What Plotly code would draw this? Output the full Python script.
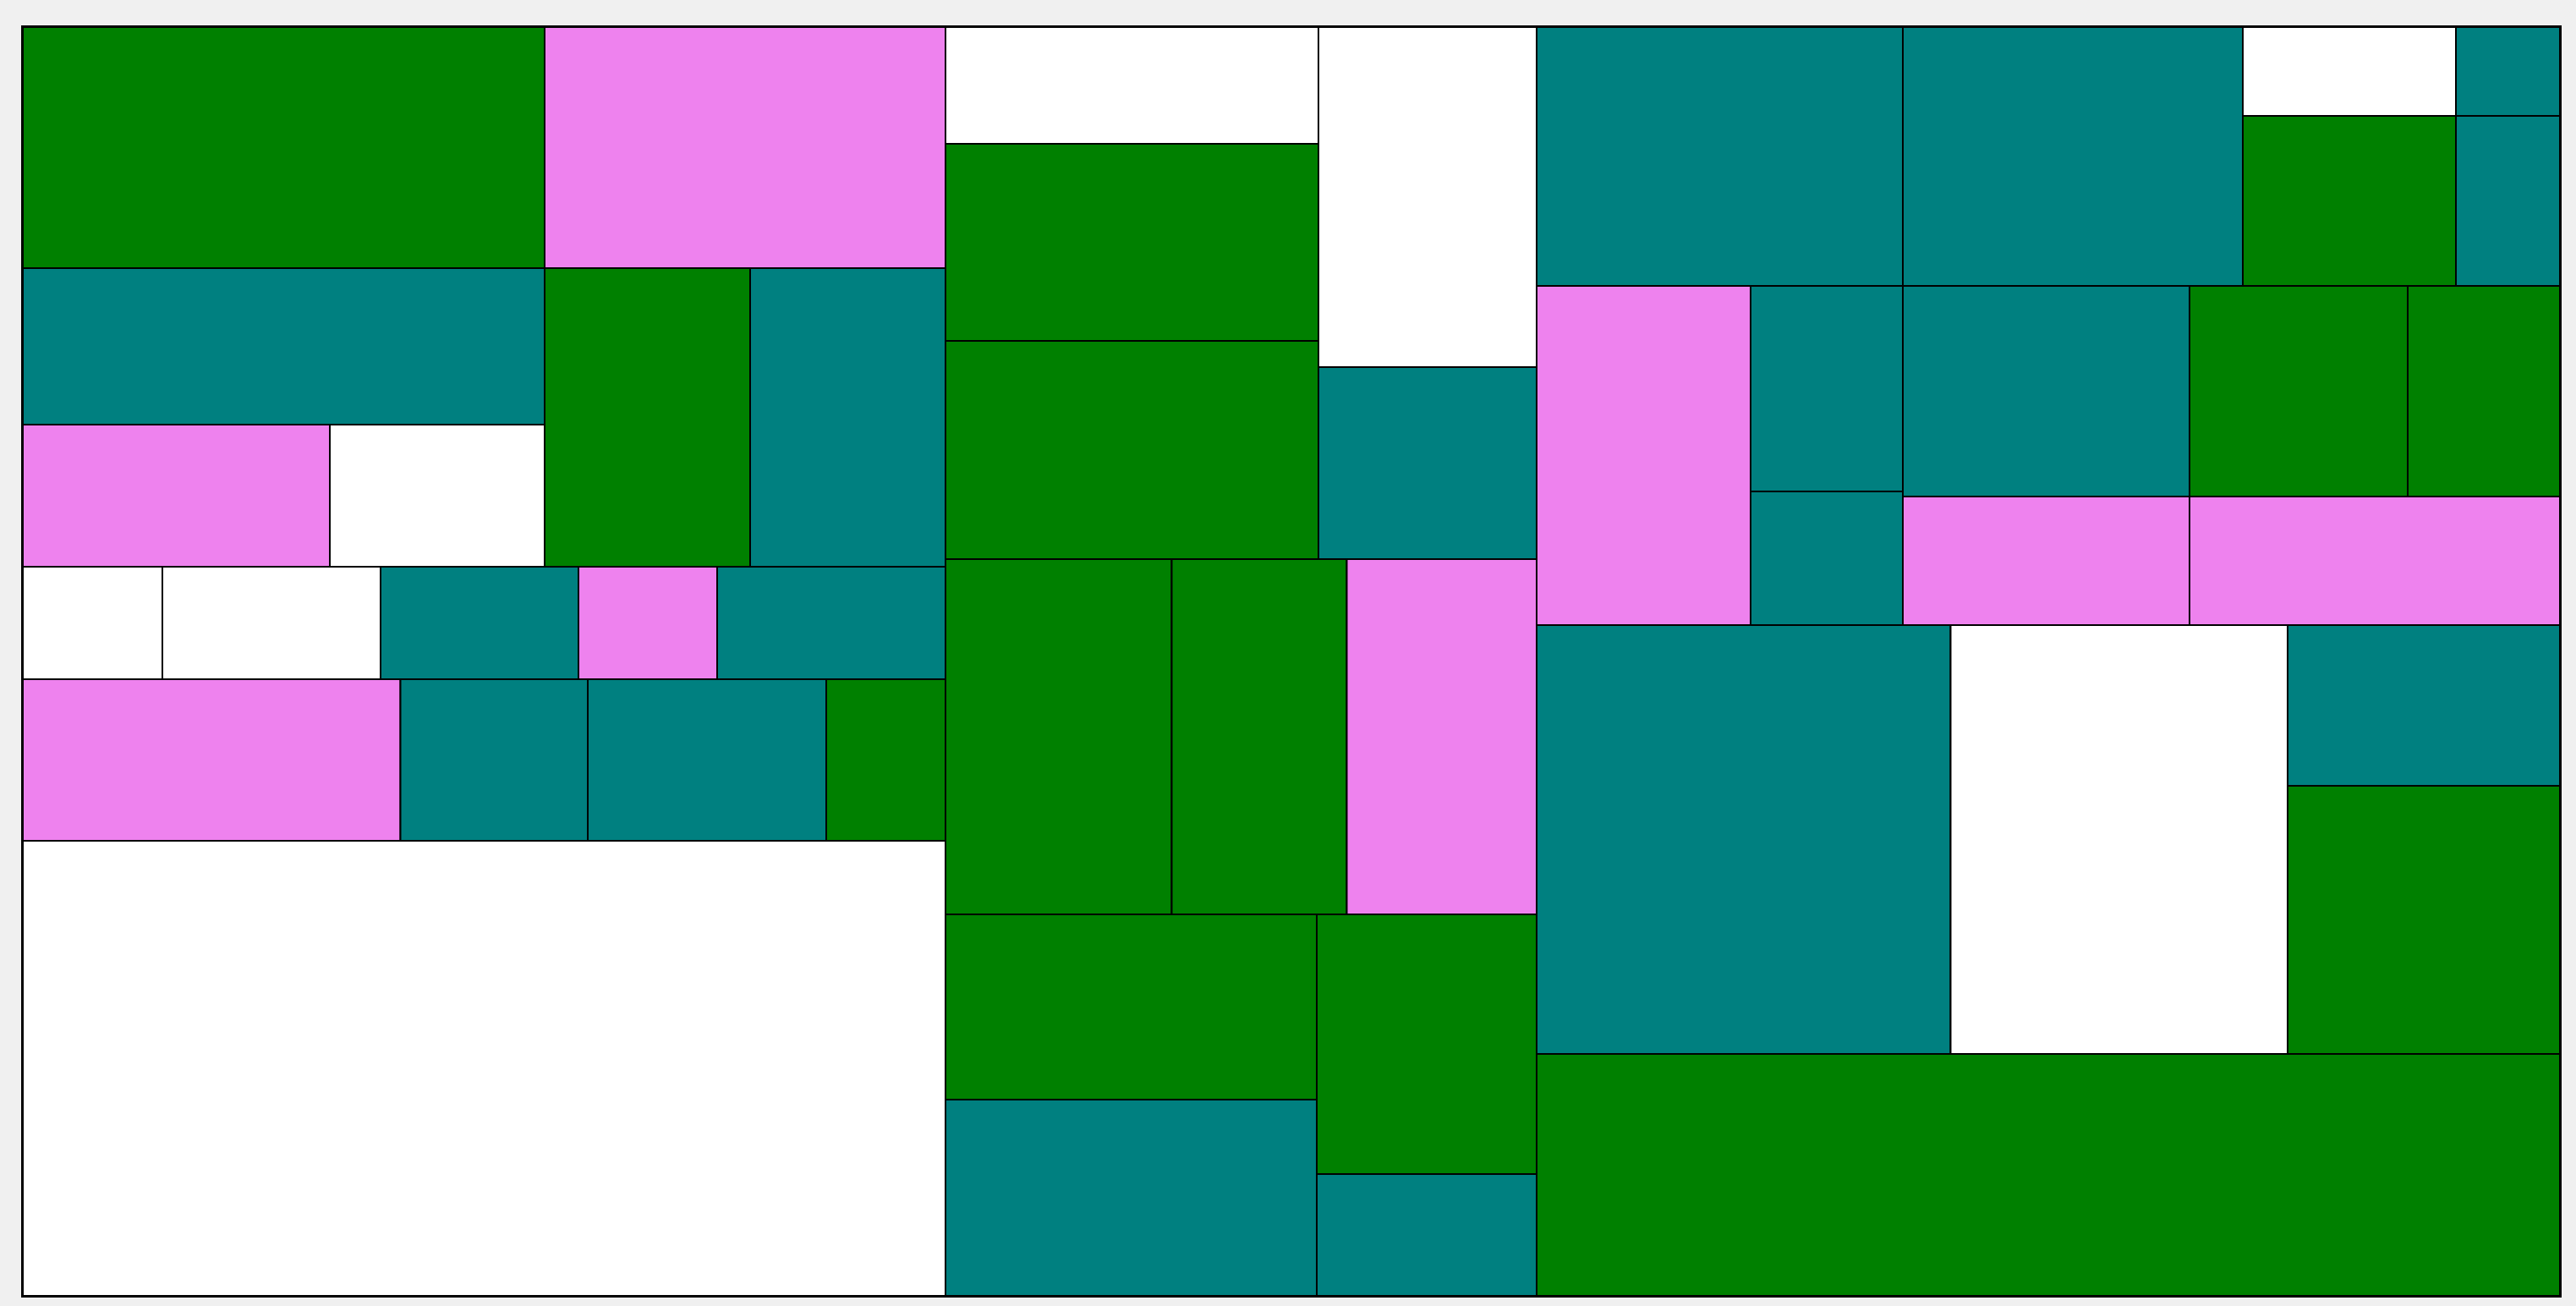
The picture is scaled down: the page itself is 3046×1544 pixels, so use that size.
import plotly.graph_objects as go

# Cell bounds (chart area spans 0..3000 by 0..1500)
cell_colors = [
    "green", "violet", "teal", "violet", "white", "green", "teal",
    "white", "white", "teal", "violet", "teal",
    "violet", "teal", "teal", "green", "white",
    "white", "green", "green", "white", "teal",
    "green", "green", "violet", "green", "teal", "green", "teal",
    "teal", "teal", "white", "green", "teal", "teal",
    "violet", "teal", "teal", "teal", "green", "green", "violet", "violet",
    "teal", "white", "teal", "green", "green",
]
x_left = [
    0, 617, 0, 0, 363, 617, 860,
    0, 165, 423, 657, 821,
    0, 446.5, 668, 950, 0,
    1091, 1091, 1091, 1532, 1532,
    1091, 1358.5, 1565.5, 1091, 1091, 1530, 1530,
    1790, 2223, 2625, 2625, 2877, 2877,
    1790, 2043, 2043, 2223, 2562, 2820, 2223, 2562,
    1790, 2279.5, 2678, 2678, 1790,
]
x_right = [
    617, 1091, 617, 363, 617, 860, 1091,
    165, 423, 657, 821, 1091,
    446.5, 668, 950, 1091, 1091,
    1532, 1532, 1532, 1790, 1790,
    1358.5, 1565.5, 1790, 1530, 1530, 1790, 1790,
    2223, 2625, 2877, 2877, 3000, 3000,
    2043, 2223, 2223, 2562, 2820, 3000, 2562, 3000,
    2279.5, 2678, 3000, 3000, 3000,
]
y_top = [
    0, 0, 285, 470, 470, 285, 285,
    638, 638, 638, 638, 638,
    771, 771, 771, 771, 962,
    0, 138, 371, 0, 402,
    629, 629, 629, 1049, 1268, 1049, 1356,
    0, 0, 0, 105, 0, 105,
    306, 306, 549, 306, 306, 306, 555, 555,
    707, 707, 707, 897, 1214,
]
y_bottom = [
    285, 285, 470, 638, 638, 638, 638,
    771, 771, 771, 771, 771,
    962, 962, 962, 962, 1500,
    138, 371, 629, 402, 629,
    1049, 1049, 1049, 1268, 1500, 1356, 1500,
    306, 306, 105, 306, 105, 306,
    707, 549, 707, 555, 555, 555, 707, 707,
    1214, 1214, 897, 1214, 1500,
]

centers = [(a + b) / 2 for a, b in zip(x_left, x_right)]
widths = [b - a for a, b in zip(x_left, x_right)]
heights = [b - a for a, b in zip(y_top, y_bottom)]

fig = go.Figure(
    go.Bar(
        x=centers,
        width=widths,
        base=y_top,
        y=heights,
        marker=dict(color=cell_colors, line=dict(color="black", width=2)),
        hoverinfo="skip",
        showlegend=False,
    )
)

fig.update_layout(
    width=3046,
    height=1544,
    margin=dict(l=27, r=19, t=32, b=12),
    paper_bgcolor="#f0f0f0",
    plot_bgcolor="white",
    barmode="overlay",
    xaxis=dict(range=[0, 3000], showgrid=False, zeroline=False, showticklabels=False,
               ticks="", showline=True, mirror=True, linecolor="black", linewidth=2,
               fixedrange=True),
    yaxis=dict(range=[1500, 0], showgrid=False, zeroline=False, showticklabels=False,
               ticks="", showline=True, mirror=True, linecolor="black", linewidth=2,
               fixedrange=True),
)

fig.write_html("out.html", config={"displayModeBar": False})
